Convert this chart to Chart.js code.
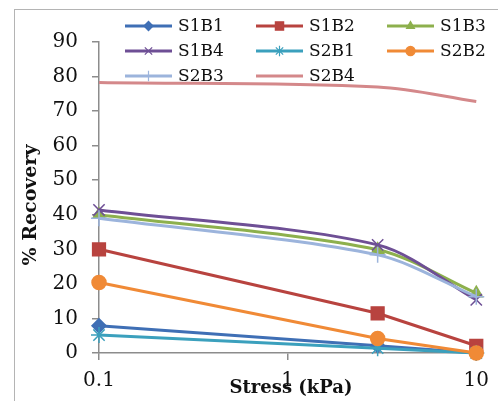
<!DOCTYPE html>
<html>
<head>
<meta charset="utf-8">
<script src="https://cdn.jsdelivr.net/npm/chart.js@4/dist/chart.umd.min.js"></script>
<style>
  html, body { margin: 0; padding: 0; background: #fff; }
  #wrap { width: 498px; height: 401px; position: relative; }
</style>
</head>
<body>
<div id="wrap"><canvas id="chart-recovery" width="498" height="401"></canvas></div>
<script>
  // stress levels (kPa) and % recovery per sample
  const stress = [0.1, 3, 10];
  const xTicks = [0.1, 1, 10];
  const S1B1 = [7.9, 2.1, 0];
  const S1B2 = [30, 11.5, 2.1];
  const S1B3 = [40, 29.9, 17.3];
  const S1B4 = [41.4, 31.3, 15.4];
  const S2B1 = [5.2, 1.4, 0];
  const S2B2 = [20.4, 4.2, 0];
  const S2B3 = [39, 28.4, 16.3];
  const S2B4 = [78.3, 77, 72.8];

  const SERIES = [
    { label: "S1B1", data: S1B1, color: "#3F6FB5", style: "rectRot", r: 7, tension: 0 },
    { label: "S1B2", data: S1B2, color: "#B8433F", style: "rect", r: 9, tension: 0 },
    { label: "S1B3", data: S1B3, color: "#8DB04D", style: "triangle", r: 7, tension: 0.3 },
    { label: "S1B4", data: S1B4, color: "#6E4F95", style: "crossRot", r: 8, tension: 0.3 },
    { label: "S2B1", data: S2B1, color: "#3BA0BD", style: "star", r: 8, tension: 0 },
    { label: "S2B2", data: S2B2, color: "#F08A36", style: "circle", r: 7, tension: 0 },
    { label: "S2B3", data: S2B3, color: "#9CB4DC", style: "cross", r: 8, tension: 0.3 },
    { label: "S2B4", data: S2B4, color: "#D4888A", style: false, r: 0, tension: 0.35 },
  ];

  const FONT = "'DejaVu Serif', 'Liberation Serif', serif";
  const AXIS_GREY = "#8c8c8c";

  const datasets = SERIES.map((s, i) => ({
    label: s.label,
    data: stress.map((x, k) => ({ x: x, y: s.data[k] })),
    borderColor: s.color,
    backgroundColor: s.color,
    borderWidth: 3,
    pointStyle: s.style,
    pointRadius: s.r,
    pointBackgroundColor: s.color,
    pointBorderColor: s.color,
    pointBorderWidth: 1.5,
    tension: s.tension,
    clip: false,
    order: SERIES.length - i,
  }));

  // frame, axis titles and a 3-column legend placed over the plot
  const decorations = {
    id: "decorations",
    beforeDraw(chart) {
      const ctx = chart.ctx;
      ctx.save();
      ctx.strokeStyle = "#b4b4b4";
      ctx.lineWidth = 1;
      ctx.strokeRect(14.5, 9.5, 500, 420);
      ctx.restore();
    },
    afterDraw(chart) {
      const ctx = chart.ctx;
      ctx.save();
      ctx.fillStyle = "#111";
      ctx.font = "bold 18px " + FONT;
      ctx.textAlign = "center";
      ctx.textBaseline = "middle";
      ctx.fillText("Stress (kPa)", 291, 388);
      ctx.font = "bold 19px " + FONT;
      ctx.translate(31, 205);
      ctx.rotate(-Math.PI / 2);
      ctx.fillText("% Recovery", 0, 0);
      ctx.restore();

      ctx.save();
      ctx.font = "17px " + FONT;
      ctx.textBaseline = "middle";
      ctx.textAlign = "left";
      chart.data.datasets.forEach((ds, i) => {
        const col = i % 3;
        const row = Math.floor(i / 3);
        const x0 = 125 + col * 131;
        const y = 26 + row * 25;
        ctx.strokeStyle = ds.borderColor;
        ctx.lineWidth = 3;
        ctx.beginPath();
        ctx.moveTo(x0, y);
        ctx.lineTo(x0 + 47, y);
        ctx.stroke();
        if (ds.pointStyle && Chart.helpers && Chart.helpers.drawPoint) {
          ctx.fillStyle = ds.pointBackgroundColor;
          ctx.strokeStyle = ds.pointBorderColor;
          ctx.lineWidth = 1.2;
          Chart.helpers.drawPoint(ctx, {
            pointStyle: ds.pointStyle,
            radius: ds.pointRadius * 0.65,
            rotation: 0,
            borderWidth: 1.2,
          }, x0 + 23.5, y);
        }
        ctx.fillStyle = "#111";
        ctx.fillText(ds.label, x0 + 53, y + 1);
      });
      ctx.restore();
    },
  };

  const chart = new Chart(document.getElementById("chart-recovery"), {
    type: "line",
    data: { datasets },
    options: {
      responsive: false,
      animation: false,
      layout: { padding: { left: 14, right: 14, top: 42, bottom: 0 } },
      plugins: {
        legend: { display: false },
        tooltip: { enabled: false },
      },
      scales: {
        x: {
          type: "logarithmic",
          min: 0.1,
          max: 10,
          afterBuildTicks: (scale) => {
            scale.ticks = xTicks.map((v) => ({ value: v }));
          },
          afterFit: (scale) => {
            scale.height = 401 - 353;
          },
          ticks: {
            color: "#111",
            font: { family: FONT, size: 20 },
            padding: 9,
            maxRotation: 0,
            autoSkip: false,
            callback: (v) => String(v),
          },
          grid: {
            drawOnChartArea: false,
            drawTicks: true,
            tickLength: 7,
            color: AXIS_GREY,
            lineWidth: 1.5,
          },
          border: { color: AXIS_GREY, width: 1.5 },
        },
        y: {
          min: 0,
          max: 90,
          afterFit: (scale) => {
            scale.width = 99 - 14;
          },
          ticks: {
            stepSize: 10,
            color: "#111",
            font: { family: FONT, size: 20 },
            padding: 14,
          },
          grid: {
            drawOnChartArea: false,
            drawTicks: true,
            tickLength: 7,
            color: AXIS_GREY,
            lineWidth: 1.5,
          },
          border: { color: AXIS_GREY, width: 1.5 },
        },
      },
    },
    plugins: [decorations],
  });
</script>
</body>
</html>
